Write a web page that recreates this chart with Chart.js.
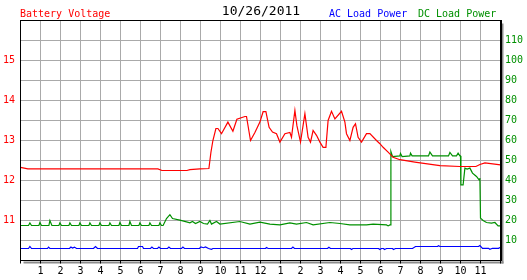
<!DOCTYPE html>
<html>
  <head>
    <script src="https://cdn.jsdelivr.net/npm/chart.js"></script>
    <style>
      body { margin: 0; background: #fff; }
    </style>
  </head>
  <body>
    <canvas id="chart" width="527" height="280"></canvas>

    <script>
      // hour labels along the bottom (0 and 24 are the frame edges)
      const hourLabels = ["", "1", "2", "3", "4", "5", "6", "7", "8", "9", "10", "11", "12",
        "1", "2", "3", "4", "5", "6", "7", "8", "9", "10", "11", ""];
      const dateTitle = "10/26/2011";

      // Battery Voltage (left axis, volts)
      const voltHours = [0, 0.37, 6.87, 7.07, 8.32, 8.47, 8.97, 9.42, 9.52, 9.62,
        9.77, 9.87, 10.05, 10.37, 10.62, 10.82, 11.22, 11.3, 11.5, 11.72,
        11.97, 12.13, 12.27, 12.43, 12.6, 12.8, 12.97, 13.22, 13.47, 13.55,
        13.72, 13.82, 14.0, 14.22, 14.38, 14.5, 14.63, 14.8, 14.97, 15.13,
        15.27, 15.38, 15.55, 15.72, 16.05, 16.22, 16.3, 16.47, 16.63, 16.75,
        16.88, 17.05, 17.3, 17.47, 17.8, 17.97, 18.13, 18.38, 18.63, 18.97,
        19.72, 20.97, 21.97, 22.77, 22.97, 23.22, 24];
      const voltValues = [12.33, 12.29, 12.29, 12.25, 12.25, 12.27, 12.29, 12.3, 12.7, 13.0,
        13.3, 13.3, 13.17, 13.46, 13.23, 13.53, 13.6, 13.6, 13.0, 13.2,
        13.46, 13.72, 13.72, 13.33, 13.21, 13.17, 12.96, 13.17, 13.2, 13.08,
        13.75, 13.37, 12.96, 13.67, 13.08, 12.96, 13.25, 13.13, 12.96, 12.83,
        12.83, 13.5, 13.73, 13.54, 13.73, 13.46, 13.17, 13.0, 13.33, 13.42,
        13.08, 12.96, 13.17, 13.17, 13.0, 12.92, 12.83, 12.71, 12.58, 12.52,
        12.46, 12.37, 12.35, 12.35, 12.4, 12.44, 12.39];

      // DC Load Power (right axis)
      const dcHours = [0, 0.4, 0.47, 0.55, 0.92, 0.97, 1.05, 1.42, 1.47, 1.57,
        1.92, 1.97, 2.05, 2.42, 2.47, 2.55, 2.92, 2.97, 3.05, 3.42,
        3.47, 3.55, 3.92, 3.97, 4.05, 4.42, 4.47, 4.55, 4.92, 4.97,
        5.05, 5.42, 5.47, 5.55, 5.92, 5.97, 6.05, 6.42, 6.47, 6.55,
        6.92, 6.97, 7.05, 7.13, 7.3, 7.47, 7.6, 7.97, 8.3, 8.47,
        8.6, 8.75, 8.97, 9.15, 9.35, 9.47, 9.55, 9.8, 9.97, 10.97,
        11.47, 11.97, 12.47, 12.97, 13.47, 13.8, 14.3, 14.63, 15.47, 15.97,
        16.47, 17.3, 17.63, 18.3, 18.38, 18.47, 18.5, 18.52, 18.6, 18.97,
        19.0, 19.08, 19.47, 19.5, 19.58, 20.4, 20.47, 20.6, 21.4, 21.47,
        21.6, 21.8, 21.88, 21.97, 22.0, 22.02, 22.13, 22.22, 22.33, 22.47,
        22.6, 22.8, 22.93, 22.97, 23.0, 23.13, 23.3, 23.55, 23.72, 23.88, 24];
      const dcValues = [17.5, 17.5, 18.8, 17.5, 17.5, 19, 17.5, 17.5, 20, 17.5,
        17.5, 18.8, 17.5, 17.5, 18.8, 17.5, 17.5, 18.8, 17.5, 17.5,
        18.8, 17.5, 17.5, 18.8, 17.5, 17.5, 18.8, 17.5, 17.5, 19,
        17.5, 17.5, 19.5, 17.5, 17.5, 18.8, 17.5, 17.5, 18.8, 17.5,
        17.5, 18.8, 17.5, 17.5, 21, 22.9, 21, 20.2, 19.3, 18.8,
        19.5, 18.5, 19.5, 18.5, 18.2, 20, 18.2, 19.5, 18.2, 19.5,
        18.2, 19.2, 18.2, 17.8, 18.8, 18.2, 19, 17.8, 19, 18.5,
        17.8, 17.8, 18.2, 17.8, 17.3, 17.8, 17.8, 54.5, 52, 52.3,
        53.5, 52, 52.3, 53.7, 52.3, 52.3, 54.2, 52.3, 52.3, 54,
        52.3, 52.3, 53.7, 52.3, 52.3, 37.8, 37.8, 46.2, 45.7, 46.2,
        43.7, 42, 40.3, 41.2, 21.2, 20, 19, 18.7, 19, 17.3, 17.3];

      // AC Load Power (right axis)
      const acHours = [0, 0.4, 0.47, 0.55, 1.35, 1.4, 1.47, 2.45, 2.52, 2.6,
        2.7, 2.8, 3.65, 3.75, 3.85, 5.85, 5.9, 6.1, 6.15, 6.5,
        6.57, 6.65, 6.85, 6.92, 7.0, 7.35, 7.42, 7.5, 8.05, 8.12,
        8.2, 8.95, 9.02, 9.15, 9.25, 9.4, 9.55, 9.62, 12.25, 12.3,
        12.38, 13.55, 13.62, 13.7, 15.35, 15.42, 15.5, 16.5, 16.55, 16.62,
        17.9, 17.97, 18.05, 18.15, 18.2, 18.3, 18.6, 18.65, 18.75, 19.6,
        19.75, 20.85, 20.9, 20.97, 22.9, 22.97, 23.1, 23.4, 23.47, 23.6,
        23.9, 24];
      const acValues = [6, 6, 7, 6, 6, 6.7, 6, 6, 6.7, 6.2,
        6.7, 6, 6, 7, 6, 6, 7, 7, 6, 6,
        6.7, 6, 6, 6.7, 6, 6, 6.7, 6, 6, 6.7,
        6, 6, 6.8, 6.4, 6.8, 6, 5.6, 6, 6, 6.5,
        6, 6, 6.7, 6, 6, 6.6, 6, 6, 5.5, 6,
        6, 5.5, 6, 6, 5.5, 6, 6, 5.5, 6, 6,
        7, 7, 7.4, 7, 7, 7.5, 6.1, 6.1, 5.6, 6.1,
        6.1, 6.6];

      const RED = "#ff0000";
      const GREEN = "#009000";
      const BLUE = "#0000ff";
      const MONO = "'DejaVu Sans Mono', 'Liberation Mono', monospace";

      function toPoints(xs, ys) {
        return xs.map((x, i) => ({ x: x, y: ys[i] }));
      }

      // white page, drop shadow of the frame, black frame and the header texts
      const framePlugin = {
        id: "frame",
        beforeDraw(chart) {
          const { ctx, chartArea: a } = chart;
          ctx.save();
          ctx.fillStyle = "#fff";
          ctx.fillRect(0, 0, chart.width, chart.height);
          ctx.fillStyle = "#8c8c8c";
          ctx.fillRect(a.right + 1, a.top + 3, 2, a.bottom - a.top);
          ctx.fillRect(a.left + 3, a.bottom + 1, a.right - a.left, 2);
          ctx.restore();
        },
        afterDraw(chart) {
          const { ctx, chartArea: a } = chart;
          ctx.save();
          ctx.strokeStyle = "#000";
          ctx.lineWidth = 1;
          ctx.strokeRect(a.left, a.top, a.right - a.left, a.bottom - a.top);
          ctx.fillStyle = "#000";
          ctx.fillRect(a.right, a.top - 0.5, 1.5, a.bottom - a.top + 1);

          ctx.textBaseline = "alphabetic";
          ctx.font = "10px " + MONO;
          ctx.fillStyle = RED;
          ctx.textAlign = "left";
          ctx.fillText("Battery Voltage", 20, 16.5);
          ctx.fillStyle = BLUE;
          ctx.fillText("AC Load Power", 329, 16.5);
          ctx.fillStyle = GREEN;
          ctx.fillText("DC Load Power", 418, 16.5);
          ctx.font = "13px " + MONO;
          ctx.fillStyle = "#000";
          ctx.textAlign = "center";
          ctx.fillText(dateTitle, 261, 15);
          ctx.restore();
        }
      };

      const ctx = document.getElementById("chart").getContext("2d");
      window.myChart = new Chart(ctx, {
        type: "line",
        data: {
          datasets: [
            {
              label: "Battery Voltage",
              data: toPoints(voltHours, voltValues),
              borderColor: RED,
              yAxisID: "y",
            },
            {
              label: "DC Load Power",
              data: toPoints(dcHours, dcValues),
              borderColor: GREEN,
              yAxisID: "y1",
            },
            {
              label: "AC Load Power",
              data: toPoints(acHours, acValues),
              borderColor: BLUE,
              yAxisID: "y1",
            },
          ],
        },
        options: {
          responsive: false,
          animation: false,
          devicePixelRatio: 1,
          layout: { padding: { top: 20.5, left: 0, right: 0, bottom: 0 } },
          elements: {
            point: { radius: 0 },
            line: { borderWidth: 1.2, tension: 0 },
          },
          plugins: {
            legend: { display: false },
            tooltip: { enabled: false },
          },
          scales: {
            x: {
              type: "linear",
              min: 0,
              max: 24,
              afterFit: (s) => { s.height = 19.5; },
              border: { display: false },
              grid: { color: "#aaaaaa", lineWidth: 1, tickLength: 3, tickColor: "#000" },
              ticks: {
                stepSize: 1,
                autoSkip: false,
                maxRotation: 0,
                padding: 2,
                color: "#000",
                font: { family: MONO, size: 10 },
                callback: (v) => hourLabels[v],
              },
            },
            y: {
              position: "left",
              min: 10,
              max: 16,
              afterFit: (s) => { s.width = 20.5; },
              border: { display: false },
              grid: { color: "#aaaaaa", lineWidth: 1, drawTicks: false },
              ticks: {
                stepSize: 0.5,
                padding: 5.5,
                color: RED,
                font: { family: MONO, size: 10 },
                callback: (v) => (Number.isInteger(v) && v > 10 && v < 16 ? String(v) : ""),
              },
            },
            y1: {
              position: "right",
              min: 0,
              max: 120,
              afterFit: (s) => { s.width = 26.5; },
              border: { display: false },
              grid: { display: false, drawTicks: false },
              ticks: {
                stepSize: 10,
                padding: 4.5,
                color: GREEN,
                font: { family: MONO, size: 10 },
                callback: (v) => (v > 0 && v < 120 ? String(v) : ""),
              },
            },
          },
        },
        plugins: [framePlugin],
      });
    </script>
  </body>
</html>
